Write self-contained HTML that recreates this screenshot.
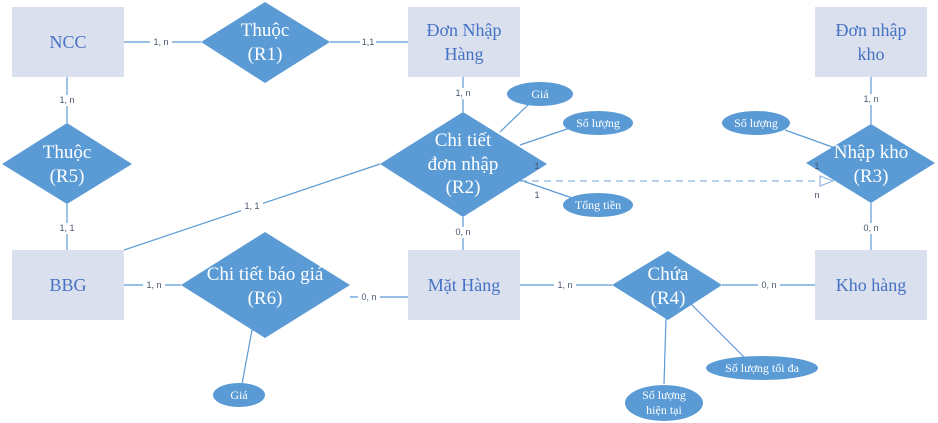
<!DOCTYPE html>
<html><head><meta charset="utf-8"><style>
html,body{margin:0;padding:0;background:#fff;}
svg{display:block;}
.e{fill:#dbe0ee;}
.et{fill:#4472c4;font-family:"Liberation Serif",serif;font-size:18px;text-anchor:middle;}
.r{fill:#5b9bd5;}
.rt{fill:#fff;font-family:"Liberation Serif",serif;font-size:19px;text-anchor:middle;}
.l{stroke:#5b9bd5;stroke-width:1.2;fill:none;}
.c{fill:#44546a;font-family:"Liberation Sans",sans-serif;font-size:9px;text-anchor:middle;}
.a{fill:#fff;font-family:"Liberation Serif",serif;font-size:12px;text-anchor:middle;}
</style></head><body>
<svg width="938" height="423" viewBox="0 0 938 423">
<!-- lines -->
<line class="l" x1="124" y1="42" x2="201" y2="42"/>
<line class="l" x1="330" y1="42" x2="408" y2="42"/>
<line class="l" x1="67" y1="77" x2="67" y2="123"/>
<line class="l" x1="67" y1="204" x2="67" y2="250"/>
<line class="l" x1="463" y1="77" x2="463" y2="112"/>
<line class="l" x1="463" y1="217" x2="463" y2="250"/>
<line class="l" x1="124" y1="250" x2="380" y2="164"/>
<line class="l" x1="124" y1="285" x2="181" y2="285"/>
<line class="l" x1="350" y1="297" x2="408" y2="297"/>
<line class="l" x1="520" y1="285" x2="612" y2="285"/>
<line class="l" x1="722" y1="285" x2="815" y2="285"/>
<line class="l" x1="871" y1="77" x2="871" y2="124"/>
<line class="l" x1="871" y1="203" x2="871" y2="250"/>
<line class="l" x1="500" y1="132" x2="530" y2="103"/>
<line class="l" x1="520" y1="145" x2="570" y2="128"/>
<line class="l" x1="520" y1="180" x2="578" y2="200"/>
<line class="l" x1="785" y1="130" x2="835" y2="148"/>
<line class="l" x1="252" y1="330" x2="242" y2="384"/>
<line class="l" x1="666" y1="318" x2="664" y2="384"/>
<line class="l" x1="690" y1="303" x2="745" y2="358"/>
<line x1="520" y1="181" x2="820" y2="181" stroke="#8fb4de" stroke-width="1.3" stroke-dasharray="7,5"/>
<!-- entities -->
<rect class="e" x="12" y="7" width="112" height="70"/><text class="et" x="68" y="48">NCC</text>
<rect class="e" x="408" y="7" width="112" height="70"/><text class="et" x="464" y="36">Đơn Nhập</text><text class="et" x="464" y="60">Hàng</text>
<rect class="e" x="815" y="7" width="112" height="70"/><text class="et" x="871" y="36">Đơn nhập</text><text class="et" x="871" y="60">kho</text>
<rect class="e" x="12" y="250" width="112" height="70"/><text class="et" x="68" y="291">BBG</text>
<rect class="e" x="408" y="250" width="112" height="70"/><text class="et" x="464" y="291">Mặt Hàng</text>
<rect class="e" x="815" y="250" width="112" height="70"/><text class="et" x="871" y="291">Kho hàng</text>
<!-- relationships -->
<polygon class="r" points="265,2 330,42 265,83 201,42"/><text class="rt" x="265" y="36">Thuộc</text><text class="rt" x="265" y="60">(R1)</text>
<polygon class="r" points="67,123 132,164 67,204 2,164"/><text class="rt" x="67" y="158">Thuộc</text><text class="rt" x="67" y="182">(R5)</text>
<polygon class="r" points="463,112 547,164 463,217 380,164"/><text class="rt" x="463" y="146">Chi tiết</text><text class="rt" x="463" y="170">đơn nhập</text><text class="rt" x="463" y="193">(R2)</text>
<polygon class="r" points="871,124 935,163 871,203 806,163"/><text class="rt" x="871" y="158">Nhập kho</text><text class="rt" x="871" y="182">(R3)</text>
<polygon class="r" points="265,232 350,285 265,338 181,285"/><text class="rt" x="265" y="280">Chi tiết báo giá</text><text class="rt" x="265" y="304">(R6)</text>
<polygon class="r" points="668,251 722,285 668,320 612,285"/><text class="rt" x="668" y="280">Chứa</text><text class="rt" x="668" y="304">(R4)</text>
<polygon points="820,176 833,181 820,186" fill="#fff" stroke="#8fb4de" stroke-width="1.2"/>
<!-- attributes -->
<ellipse class="r" cx="540" cy="94" rx="33" ry="12"/><text class="a" x="540" y="98">Giá</text>
<ellipse class="r" cx="598" cy="123" rx="35" ry="12"/><text class="a" x="598" y="127">Số lượng</text>
<ellipse class="r" cx="598" cy="205" rx="35" ry="12"/><text class="a" x="598" y="209">Tổng tiền</text>
<ellipse class="r" cx="756" cy="123" rx="34" ry="12"/><text class="a" x="756" y="127">Số lượng</text>
<ellipse class="r" cx="239" cy="395" rx="26" ry="12"/><text class="a" x="239" y="399">Giá</text>
<ellipse class="r" cx="762" cy="368" rx="56" ry="12"/><text class="a" x="762" y="372">Số lượng tối đa</text>
<ellipse class="r" cx="664" cy="403" rx="39" ry="18"/><text class="a" x="664" y="399">Số lượng</text><text class="a" x="664" y="414">hiện tại</text>
<!-- cardinalities -->
<g>
<rect x="150" y="37" width="22" height="10" fill="#fff"/><text class="c" x="161" y="45">1, n</text>
<rect x="360" y="37" width="16" height="10" fill="#fff"/><text class="c" x="368" y="45">1,1</text>
<rect x="55" y="95" width="24" height="11" fill="#fff"/><text class="c" x="67" y="103">1, n</text>
<rect x="55" y="223" width="24" height="11" fill="#fff"/><text class="c" x="67" y="231">1, 1</text>
<rect x="451" y="88" width="24" height="11" fill="#fff"/><text class="c" x="463" y="96">1, n</text>
<rect x="451" y="227" width="24" height="11" fill="#fff"/><text class="c" x="463" y="235">0, n</text>
<rect x="241" y="201" width="22" height="10" fill="#fff"/><text class="c" x="252" y="209">1, 1</text>
<rect x="143" y="280" width="22" height="10" fill="#fff"/><text class="c" x="154" y="288">1, n</text>
<rect x="358" y="292" width="22" height="10" fill="#fff"/><text class="c" x="369" y="300">0, n</text>
<rect x="554" y="280" width="22" height="10" fill="#fff"/><text class="c" x="565" y="288">1, n</text>
<rect x="758" y="280" width="22" height="10" fill="#fff"/><text class="c" x="769" y="288">0, n</text>
<rect x="859" y="94" width="24" height="11" fill="#fff"/><text class="c" x="871" y="102">1, n</text>
<rect x="859" y="223" width="24" height="11" fill="#fff"/><text class="c" x="871" y="231">0, n</text>
<text class="c" x="537" y="169">1</text>
<text class="c" x="537" y="198">1</text>
<text class="c" x="817" y="169">1</text>
<text class="c" x="817" y="198">n</text>
</g>
</svg>
</body></html>
